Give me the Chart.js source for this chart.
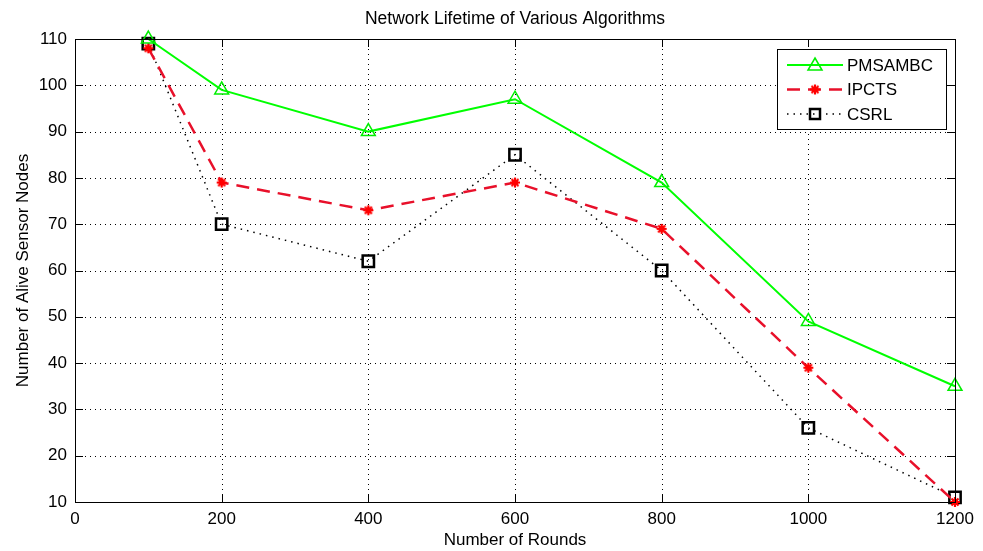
<!DOCTYPE html>
<html><head><meta charset="utf-8">
<script src="https://cdn.jsdelivr.net/npm/chart.js@4.4.0/dist/chart.umd.min.js"></script>
<style>html,body{margin:0;padding:0;background:#fff}#wrap{width:983px;height:551px}</style>
</head><body><div id="wrap"><canvas id="c" width="983" height="551"></canvas></div>
<script>
const rounds = [100, 200, 400, 600, 800, 1000, 1200];
const pmsambc = [110, 99, 90, 97, 79, 49, 35];
const ipcts = [108, 79, 73, 79, 69, 39, 10];
const csrl = [109, 70, 62, 85, 60, 26, 11];
const xTicks = [0, 200, 400, 600, 800, 1000, 1200];
const yTicks = [10, 20, 30, 40, 50, 60, 70, 80, 90, 100, 110];
const seriesNames = ['PMSAMBC', 'IPCTS', 'CSRL'];
const chartTitle = 'Network Lifetime of Various Algorithms';

const FONT = 'Liberation Sans, Arial, sans-serif';
const FS = 17;
const toPts = arr => arr.map((v, i) => ({x: rounds[i], y: v}));

function starCanvas() {
  const c = document.createElement('canvas'); c.width = 14; c.height = 14;
  const g = c.getContext('2d');
  g.strokeStyle = '#ff0000'; g.lineWidth = 2.2;
  g.beginPath();
  for (let k = 0; k < 4; k++) {
    const a = k * Math.PI / 4;
    g.moveTo(7 + 5 * Math.cos(a), 7 + 5 * Math.sin(a));
    g.lineTo(7 - 5 * Math.cos(a), 7 - 5 * Math.sin(a));
  }
  g.stroke();
  g.fillStyle = '#ff0000'; g.beginPath(); g.arc(7, 7, 3, 0, Math.PI * 2); g.fill();
  return c;
}
const star = starCanvas();

const frame = {
  id: 'frame',
  beforeDatasetsDraw(chart) {
    const {ctx, chartArea: a, scales: {x, y}} = chart;
    ctx.save();
    ctx.strokeStyle = '#000'; ctx.lineWidth = 1; ctx.setLineDash([1, 4]);
    xTicks.forEach(t => { if (t === 0 || t === 1200) return; const px = Math.round(x.getPixelForValue(t)) + 0.5; ctx.beginPath(); ctx.moveTo(px, a.top); ctx.lineTo(px, a.bottom); ctx.stroke(); });
    yTicks.forEach(t => { if (t === 10 || t === 110) return; const py = Math.round(y.getPixelForValue(t)) + 0.5; ctx.beginPath(); ctx.moveTo(a.left, py); ctx.lineTo(a.right, py); ctx.stroke(); });
    ctx.restore();
  },
  afterDraw(chart) {
    const {ctx, chartArea: a, scales: {x, y}} = chart;
    ctx.save();
    ctx.strokeStyle = '#000'; ctx.lineWidth = 1; ctx.setLineDash([]);
    ctx.strokeRect(Math.round(a.left) + 0.5, Math.round(a.top) + 0.5, Math.round(a.right - a.left), Math.round(a.bottom - a.top));
    ctx.beginPath();
    xTicks.forEach(t => { const px = Math.round(x.getPixelForValue(t)) + 0.5; ctx.moveTo(px, a.bottom); ctx.lineTo(px, a.bottom - 8); ctx.moveTo(px, a.top); ctx.lineTo(px, a.top + 8); });
    yTicks.forEach(t => { const py = Math.round(y.getPixelForValue(t)) + 0.5; ctx.moveTo(a.left, py); ctx.lineTo(a.left + 8, py); ctx.moveTo(a.right, py); ctx.lineTo(a.right - 8, py); });
    ctx.stroke();
    // title
    ctx.fillStyle = '#000'; ctx.textAlign = 'center'; ctx.textBaseline = 'middle';
    ctx.font = '17.5px ' + FONT;
    ctx.fillText(chartTitle, (a.left + a.right) / 2, 19);
    // legend
    const lx = 777, ly = 49, lw = 169, lh = 80;
    ctx.fillStyle = '#fff'; ctx.fillRect(lx, ly, lw, lh);
    ctx.strokeRect(lx + 0.5, ly + 0.5, lw, lh);
    ctx.font = FS + 'px ' + FONT; ctx.textAlign = 'left'; ctx.textBaseline = 'middle'; ctx.fillStyle = '#000';
    chart.data.datasets.forEach((ds, i) => {
      const yy = ly + 16 + i * 24.5;
      ctx.save();
      ctx.strokeStyle = ds.borderColor; ctx.lineWidth = ds.borderWidth; ctx.setLineDash(ds.borderDash || []);
      ctx.beginPath(); ctx.moveTo(lx + 10, yy); ctx.lineTo(lx + 66, yy); ctx.stroke();
      ctx.setLineDash([]);
      const cx = lx + 38;
      if (i === 0) { ctx.strokeStyle = ds.pointBorderColor; ctx.lineWidth = 1.5; ctx.beginPath(); ctx.moveTo(cx, yy - 7); ctx.lineTo(cx + 7, yy + 5); ctx.lineTo(cx - 7, yy + 5); ctx.closePath(); ctx.stroke(); }
      else if (i === 1) { ctx.drawImage(star, cx - 7, yy - 7); }
      else { ctx.strokeStyle = '#000'; ctx.lineWidth = 2.5; ctx.strokeRect(cx - 5, yy - 5, 10, 10); }
      ctx.restore();
      ctx.fillText(ds.label, lx + 70, yy + 1);
    });
    ctx.restore();
  }
};

new Chart(document.getElementById('c'), {
  type: 'line',
  data: {
    datasets: [
      {label: seriesNames[0], data: toPts(pmsambc), borderColor: '#00ff00', backgroundColor: 'transparent', borderWidth: 2, pointStyle: 'triangle', pointRadius: 8, pointBorderColor: '#00ee00', pointBackgroundColor: 'transparent', pointBorderWidth: 1.5, clip: false},
      {label: seriesNames[1], data: toPts(ipcts), borderColor: '#e8102a', backgroundColor: 'transparent', borderWidth: 2.5, borderDash: [13, 8], pointStyle: star, pointRadius: 7, clip: false},
      {label: seriesNames[2], data: toPts(csrl), borderColor: '#000', backgroundColor: 'transparent', borderWidth: 1.5, borderDash: [1.5, 5], pointStyle: 'rect', pointRadius: 8, pointBorderColor: '#000', pointBackgroundColor: 'transparent', pointBorderWidth: 2.5, clip: false}
    ]
  },
  options: {
    responsive: false, animation: false, devicePixelRatio: 1,
    layout: {padding: {left: 13, right: 28, top: 39, bottom: 0}},
    plugins: {legend: {display: false}, tooltip: {enabled: false}, title: {display: false}},
    scales: {
      x: {type: 'linear', min: 0, max: 1200, afterBuildTicks: s => { s.ticks = xTicks.map(v => ({value: v})); },
        grid: {display: false, drawTicks: false}, border: {display: false},
        ticks: {color: '#000', font: {family: FONT, size: FS}, padding: 7, maxRotation: 0, callback: v => String(v)},
        title: {display: true, text: 'Number of Rounds', color: '#000', font: {family: FONT, size: FS}, padding: {top: 0, bottom: 0}},
        afterFit: s => { s.height = 49; }},
      y: {min: 10, max: 110, afterBuildTicks: s => { s.ticks = yTicks.map(v => ({value: v})); },
        grid: {display: false, drawTicks: false}, border: {display: false},
        ticks: {color: '#000', font: {family: FONT, size: FS}, padding: 8, callback: v => String(v)},
        title: {display: true, text: 'Number of Alive Sensor Nodes', color: '#000', font: {family: FONT, size: FS}, padding: {top: 0, bottom: 4}},
        afterFit: s => { s.width = 62; }}
    }
  },
  plugins: [frame]
});
</script></body></html>
